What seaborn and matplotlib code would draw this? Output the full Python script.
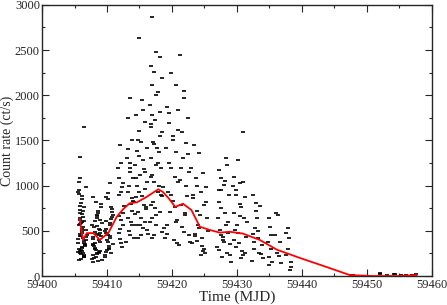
import numpy as np
import pandas as pd
import seaborn as sns
import matplotlib as mpl
mpl.use("Agg")
import matplotlib.pyplot as plt
from matplotlib.ticker import MultipleLocator

t_b1 = [59405.9, 59406.5, 59405.8, 59406.3, 59405.6, 59406.8, 59406.1, 59405.7, 59406.4, 59406.0,
        59406.2, 59405.9, 59406.6, 59405.7, 59406.0, 59406.4, 59405.8, 59406.7, 59406.1, 59405.6,
        59406.3, 59405.8, 59406.0, 59406.5, 59405.9, 59406.2, 59405.7, 59406.9, 59406.4, 59406.1,
        59405.6, 59406.7, 59406.2, 59405.9, 59406.4, 59406.0, 59405.8, 59406.3, 59406.6, 59405.7,
        59406.1, 59406.5, 59405.7, 59406.2, 59405.9, 59406.8, 59406.3, 59405.8, 59406.0, 59406.4,
        59405.9, 59406.6, 59406.1, 59405.7, 59406.3, 59406.0, 59405.8, 59406.5, 59406.2, 59405.6]
r_b1 = [1318, 1650, 1085, 655, 410, 980, 520, 300, 760, 245,
        880, 470, 350, 1040, 590, 205, 700, 430, 320, 930,
        540, 260, 810, 385, 620, 280, 950, 455, 230, 690,
        365, 505, 850, 275, 610, 190, 730, 420, 340, 560,
        480, 225, 905, 310, 645, 395, 255, 780, 440, 215,
        575, 330, 500, 180, 720, 290, 445, 360, 600, 265]

t_b2 = [59407.8, 59408.3, 59408.9, 59407.9, 59408.5, 59409.1, 59408.0, 59408.7, 59407.7, 59408.4,
        59408.8, 59408.1, 59409.2, 59407.9, 59408.6, 59408.2, 59409.0, 59407.8, 59408.4, 59408.9,
        59408.0, 59408.7, 59408.3, 59409.1, 59407.9, 59408.5, 59408.8, 59408.1, 59409.2, 59407.8,
        59408.6, 59408.2, 59409.0, 59408.4, 59407.7, 59408.9, 59408.0, 59408.5, 59408.3, 59409.1,
        59407.9, 59408.6, 59408.2, 59408.8, 59408.4]
r_b2 = [875, 820, 620, 410, 250, 760, 330, 520, 190, 680,
        455, 300, 590, 230, 720, 370, 480, 160, 640, 280,
        540, 395, 215, 800, 345, 465, 265, 610, 180, 430,
        700, 310, 505, 240, 570, 380, 200, 660, 290, 440,
        350, 170, 490, 260, 555]

t_b3 = [59410.5, 59410.1, 59409.8, 59410.6, 59409.9, 59410.3, 59410.8, 59409.7, 59410.4, 59410.0,
        59410.7, 59409.8, 59410.2, 59410.9, 59410.5, 59409.7, 59410.1, 59410.6, 59410.3, 59409.9,
        59410.8, 59410.0, 59410.4, 59409.8, 59410.6, 59410.2, 59410.9, 59409.7, 59410.3, 59410.5]
r_b3 = [1030, 920, 875, 765, 480, 310, 650, 230, 560, 400,
        705, 270, 850, 350, 590, 210, 450, 630, 330, 520,
        740, 290, 420, 610, 250, 380, 680, 500, 300, 440]

t_b4 = [59412.0, 59412.2, 59411.8, 59412.4, 59412.1, 59411.9, 59412.5, 59412.2, 59411.8,
        59412.3, 59412.0, 59412.4, 59411.7, 59412.6, 59412.1, 59411.9, 59412.3, 59412.0]
r_b4 = [1450, 1250, 1085, 1030, 930, 900, 700, 620, 475,
        320, 410, 560, 1200, 780, 360, 660, 985, 520]

t_b5 = [59413.5, 59413.3, 59413.8, 59413.1, 59413.6, 59414.0, 59413.4, 59413.2, 59413.9, 59413.7, 59413.3,
        59413.8, 59413.5, 59414.1, 59413.2, 59413.6, 59413.9, 59413.4, 59413.0, 59413.7, 59414.0, 59413.5]
r_b5 = [1970, 1750, 1505, 1305, 1250, 1085, 1000, 930, 865, 800, 640,
        565, 455, 420, 1400, 1150, 720, 500, 380, 600, 830, 1200]

t_b6 = [59415.0, 59415.6, 59414.4, 59415.9, 59414.8, 59415.3, 59416.1, 59414.6, 59415.5, 59414.3,
        59415.8, 59415.1, 59414.5, 59416.2, 59414.9, 59415.4, 59414.2, 59415.7, 59416.0, 59414.7,
        59415.2, 59415.9, 59414.4, 59415.6, 59416.3, 59414.8, 59415.0, 59415.4, 59414.6, 59415.8,
        59414.3, 59416.1, 59415.3, 59414.9, 59415.7, 59414.5, 59416.0, 59415.1]
r_b6 = [2635, 1840, 1785, 1705, 1505, 1480, 1420, 1380, 1285, 1230,
        1150, 1120, 1080, 1040, 930, 880, 820, 785, 740, 710,
        640, 600, 565, 530, 470, 420, 1600, 1950, 1000, 960,
        690, 510, 450, 1330, 1180, 870, 760, 560]

t_b7 = [59416.9, 59417.6, 59418.1, 59416.7, 59417.3, 59418.4, 59417.0, 59417.8, 59416.6, 59418.2,
        59417.4, 59416.8, 59418.5, 59417.1, 59417.7, 59418.0, 59416.7, 59417.5, 59418.3, 59416.9,
        59417.2, 59418.6, 59417.9, 59416.8, 59417.4, 59418.1, 59417.0, 59416.6, 59417.6, 59418.4,
        59417.3, 59416.9, 59418.2, 59417.8, 59416.7, 59418.5, 59417.1, 59417.5, 59418.7, 59416.8,
        59417.2, 59418.0, 59417.6, 59416.9, 59418.3]
r_b7 = [2870, 2480, 2425, 2325, 2260, 2190, 2115, 2040, 1890, 1815,
        1730, 1680, 1595, 1485, 1420, 1375, 1305, 1230, 1195, 1120,
        1040, 985, 930, 785, 750, 710, 640, 600, 565, 490,
        455, 420, 1550, 1250, 1100, 880, 820, 680, 530, 1650,
        1460, 1000, 2000, 1780, 900]

t_b8 = [59421.2, 59419.8, 59420.6, 59421.9, 59419.3, 59420.9, 59422.4, 59419.6, 59421.5, 59420.2,
        59422.1, 59419.1, 59420.7, 59421.7, 59419.9, 59422.6, 59420.4, 59421.0, 59419.4, 59422.3,
        59420.1, 59421.4, 59419.7, 59422.0, 59420.8, 59419.2, 59421.8, 59422.7, 59420.3, 59421.1,
        59419.5, 59422.2, 59420.5, 59421.6, 59419.0, 59420.9, 59422.5, 59421.3, 59419.8, 59420.6,
        59422.8, 59421.9, 59419.6, 59420.2, 59421.4, 59422.0, 59419.3, 59420.8]
r_b8 = [2450, 2250, 2115, 1970, 1870, 1840, 1750, 1695, 1595, 1505,
        1470, 1420, 1375, 1305, 1195, 1150, 1100, 1040, 930, 880,
        830, 785, 710, 670, 620, 565, 490, 450, 400, 345,
        1250, 1000, 760, 540, 420, 1620, 1350, 1060, 900, 600,
        380, 2050, 1800, 1550, 1200, 700, 470, 360]

t_b9 = [59423.4, 59424.1, 59423.0, 59424.8, 59423.7, 59425.2, 59424.4, 59423.2, 59424.9, 59423.9,
        59425.4, 59424.2, 59423.5, 59424.7, 59423.1, 59425.0, 59424.5, 59423.8, 59425.3, 59424.0,
        59423.6, 59424.6, 59425.1, 59423.3, 59424.3, 59425.5, 59423.9, 59424.8]
r_b9 = [1450, 1360, 1195, 1140, 1085, 985, 930, 865, 785, 720,
        640, 530, 470, 420, 360, 300, 230, 1000, 820, 560,
        440, 330, 260, 900, 680, 500, 390, 280]

t_b10 = [59428.3, 59428.5, 59427.2, 59427.6, 59428.0, 59427.3, 59428.8, 59427.5, 59428.2, 59427.1,
         59427.4, 59428.6, 59427.8, 59428.9, 59427.0, 59428.4, 59427.7, 59429.1, 59428.1, 59427.2,
         59428.7, 59427.5, 59428.0, 59427.3, 59428.9, 59427.6, 59428.3, 59427.9]
r_b10 = [1305, 1230, 1175, 1085, 1010, 950, 900, 750, 700, 640,
         510, 480, 430, 350, 320, 260, 210, 155, 1050, 820,
         600, 450, 380, 290, 230, 950, 560, 400]

t_b11 = [59430.9, 59430.2, 59429.6, 59431.0, 59430.4, 59429.8, 59431.3, 59430.6, 59429.5, 59431.1,
         59430.0, 59429.7, 59431.4, 59430.3, 59429.9, 59431.2, 59430.7, 59429.4, 59430.5, 59431.5,
         59430.1, 59429.6, 59430.8, 59431.0, 59429.8, 59430.4]
r_b11 = [1595, 1285, 1100, 1040, 1030, 950, 875, 765, 700, 640,
         560, 510, 430, 370, 320, 260, 200, 1000, 800, 600,
         480, 400, 280, 230, 900, 660]

t_b12 = [59432.5, 59433.0, 59433.6, 59432.8, 59433.3, 59432.4, 59433.9, 59432.7,
         59433.4, 59434.0, 59432.9, 59433.2, 59432.6, 59433.7, 59433.1, 59432.3]
r_b12 = [900, 810, 780, 530, 500, 460, 345, 300,
         260, 200, 720, 420, 380, 240, 640, 170]

t_b13 = [59434.9, 59435.1, 59435.3, 59434.8, 59435.0, 59435.4, 59434.9, 59435.2]
r_b13 = [640, 545, 450, 380, 210, 160, 120, 300]

t_b14 = [59436.0, 59436.4, 59435.9, 59436.7, 59436.2, 59436.8, 59436.5]
r_b14 = [700, 680, 450, 380, 250, 140, 220]

t_b15 = [59437.8, 59437.5, 59438.0, 59437.6, 59438.4, 59438.2, 59437.9, 59438.3]
r_b15 = [530, 480, 420, 230, 100, 65, 300, 150]

t_b16 = [59447.5, 59447.9, 59448.3, 59452.0, 59452.1, 59453.1,
         59454.2, 59454.3, 59455.2, 59456.0, 59456.9, 59457.6]
r_b16 = [10, 15, 5, 30, 20, 15, 25, 20, 10, 15, 12, 18]

# smoothed trend (red curve)
t_fit = [59405.8, 59406.3, 59406.9, 59407.9, 59408.9, 59410.2, 59411.5, 59412.5, 59413.5, 59414.6,
         59416.1, 59417.9, 59418.6, 59419.5, 59420.5, 59421.7, 59423.0, 59424.3, 59425.8, 59427.4,
         59428.9, 59430.9, 59433.5, 59436.2, 59439.7, 59443.8, 59447.4, 59451.0, 59455.0, 59457.7]
r_fit = [630, 400, 475, 475, 400, 475, 655, 740, 805, 815,
         875, 960, 930, 860, 765, 800, 730, 545, 510, 480,
         490, 470, 400, 290, 200, 100, 10, 0, 0, 10]

t_all = (t_b1 + t_b2 + t_b3 + t_b4 + t_b5 + t_b6 + t_b7 + t_b8
         + t_b9 + t_b10 + t_b11 + t_b12 + t_b13 + t_b14 + t_b15 + t_b16)
r_all = (r_b1 + r_b2 + r_b3 + r_b4 + r_b5 + r_b6 + r_b7 + r_b8
         + r_b9 + r_b10 + r_b11 + r_b12 + r_b13 + r_b14 + r_b15 + r_b16)
obs = pd.DataFrame({"time": t_all, "rate": r_all})
fit = pd.DataFrame({"time": t_fit, "rate": r_fit})

sns.set_style("ticks")
plt.rcParams["font.family"] = ["Liberation Serif", "DejaVu Serif"]
plt.rcParams["xtick.direction"] = "in"
plt.rcParams["ytick.direction"] = "in"

fig = plt.figure(figsize=(4.47, 3.05), dpi=100)
ax = fig.add_axes([0.094, 0.095, 0.872, 0.889])

sns.scatterplot(x="time", y="rate", data=obs, marker="_", s=5, color="black",
                linewidth=1.2, ax=ax, zorder=2)
sns.lineplot(x="time", y="rate", data=fit, color="red", linewidth=1.3,
             sort=False, estimator=None, ax=ax, zorder=3)

ax.set_xlim(59400, 59460)
ax.set_ylim(0, 3000)
ax.xaxis.set_major_locator(MultipleLocator(10))
ax.xaxis.set_minor_locator(MultipleLocator(5))
ax.yaxis.set_major_locator(MultipleLocator(500))
ax.yaxis.set_minor_locator(MultipleLocator(250))
ax.tick_params(which="both", top=True, right=True, labelsize=9, width=0.8)
ax.tick_params(which="major", length=5)
ax.tick_params(axis="x", pad=2)
ax.tick_params(axis="y", pad=1.5)
ax.tick_params(which="minor", length=2.5)
for s in ax.spines.values():
    s.set_linewidth(1.0)

ax.set_xlabel("Time (MJD)", fontsize=11, labelpad=0)
ax.set_ylabel("Count rate (ct/s)", fontsize=10, labelpad=1)

fig.savefig("out.png", dpi=100)
